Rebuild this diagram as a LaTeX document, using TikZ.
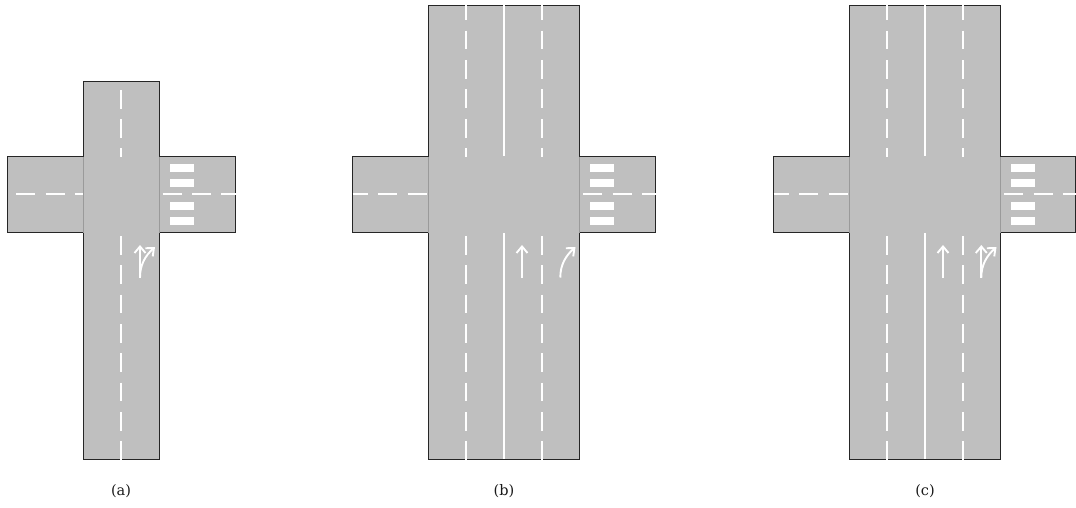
\documentclass[tikz,border=0pt]{standalone}
\usepackage{fontspec}
\setmainfont{DejaVu Serif}
\usetikzlibrary{arrows.meta}
\definecolor{roadgray}{HTML}{BFBFBF}
\definecolor{seamgray}{HTML}{9A9A9A}
\tikzset{
  roadedge/.style={draw=black!85,line width=1pt},
  seam/.style={draw=seamgray,line width=1pt},
  lanemark/.style={draw=white,line width=1.9pt},
  zebra/.style={fill=white,draw=none},
  guide/.style={draw=white,line width=1.9pt,-{Straight Barb[length=6.5pt,width=11pt]}},
  caption/.style={font=\fontsize{14.5}{17}\selectfont,text=black!90}
}
% #1 = left end of side road, #2 = left road edge, #3 = right road edge, #4 = right end of side road, #5 = top of main road
\newcommand{\crossing}[5]{%
  \fill[roadgray] (#1,156.5) rectangle (#4,232.5);
  \fill[roadgray] (#2,#5) rectangle (#3,459);
  \draw[roadedge] (#2,156.5) -- (#1,156.5) -- (#1,232.5) -- (#2,232.5);
  \draw[roadedge] (#3,156.5) -- (#4,156.5) -- (#4,232.5) -- (#3,232.5);
  \draw[roadedge] (#2,156.5) -- (#2,#5) -- (#3,#5) -- (#3,156.5);
  \draw[roadedge] (#2,232.5) -- (#2,459) -- (#3,459) -- (#3,232.5);
  \draw[seam] (#2,156.5) -- (#2,232.5);
  \draw[seam] (#3,156.5) -- (#3,232.5);
  \foreach \y in {164,179,201.7,217}
    \fill[zebra] (#3+10.7,\y) rectangle (#3+34.7,\y+8.3);
  \foreach \o/\l in {0/19,29.3/19,58.6/14.5}
    \draw[lanemark] (#3+3.7+\o,194.3) -- (#3+3.7+\o+\l,194.3);
}
\newcommand{\lanedashes}[1]{%
  \foreach \y in {236,265.3,294.6,324,353.3,382.6,412,441}
    \draw[lanemark] (#1,\y) -- (#1,\y+18.5);
}
\begin{document}
\begin{tikzpicture}[x=1pt,y=-1pt]
\useasboundingbox (0,0) rectangle (1076,507);
\fill[white] (0,0) rectangle (1076,507);
% panel a
\crossing{7.5}{83}{159}{235}{81}
\foreach \s/\e in {16/35,45.7/65,75/83}
  \draw[lanemark] (\s,194.3) -- (\e,194.3);
\foreach \y/\e in {90/108.5,119/137.5,148/156.5}
  \draw[lanemark] (121,\y) -- (121,\e);
\lanedashes{121}
\coordinate (a0) at (140,277.5);
\coordinate (a1) at (140,245);
\coordinate (a2) at (155,247);
\draw[guide] (a0) -- (a1);
\draw[guide] (a0) .. controls (140,265) and (145,256) .. (a2);
\node[caption] (capa) at (121,491) {(a)};
% panel b and c
\foreach \dx/\lab/\rend in {0/b/655.5,421/c/654.7}{
  \begin{scope}[xshift=\dx pt]
    \crossing{352.5}{428.5}{579.5}{\rend}{5}
    \foreach \s/\e in {352.5/368,378/397,407.7/426.7}
      \draw[lanemark] (\s,194.3) -- (\e,194.3);
    \foreach \x in {466,542}{
      \foreach \y/\e in {5/20,30.7/49.3,60/79,89.3/108,119.3/137.5,148.3/156.5}
        \draw[lanemark] (\x,\y) -- (\x,\e);
      \lanedashes{\x}
    }
    \draw[lanemark] (504,5) -- (504,156);
    \draw[lanemark] (504,233) -- (504,459);
    \coordinate (s0) at (522,277.5);
    \coordinate (s1) at (522,245);
    \draw[guide] (s0) -- (s1);
    \node[caption] (cap\lab) at (504,491) {(\lab)};
  \end{scope}
}
\coordinate (b0) at (560.3,277.5);
\coordinate (b2) at (575.5,247);
\draw[guide] (b0) .. controls (560.3,265) and (565.5,256) .. (b2);
\coordinate (c0) at (981.3,277.5);
\coordinate (c1) at (981.3,245);
\coordinate (c2) at (996.5,247);
\draw[guide] (c0) -- (c1);
\draw[guide] (c0) .. controls (981.3,265) and (986.5,256) .. (c2);
\end{tikzpicture}
\end{document}
